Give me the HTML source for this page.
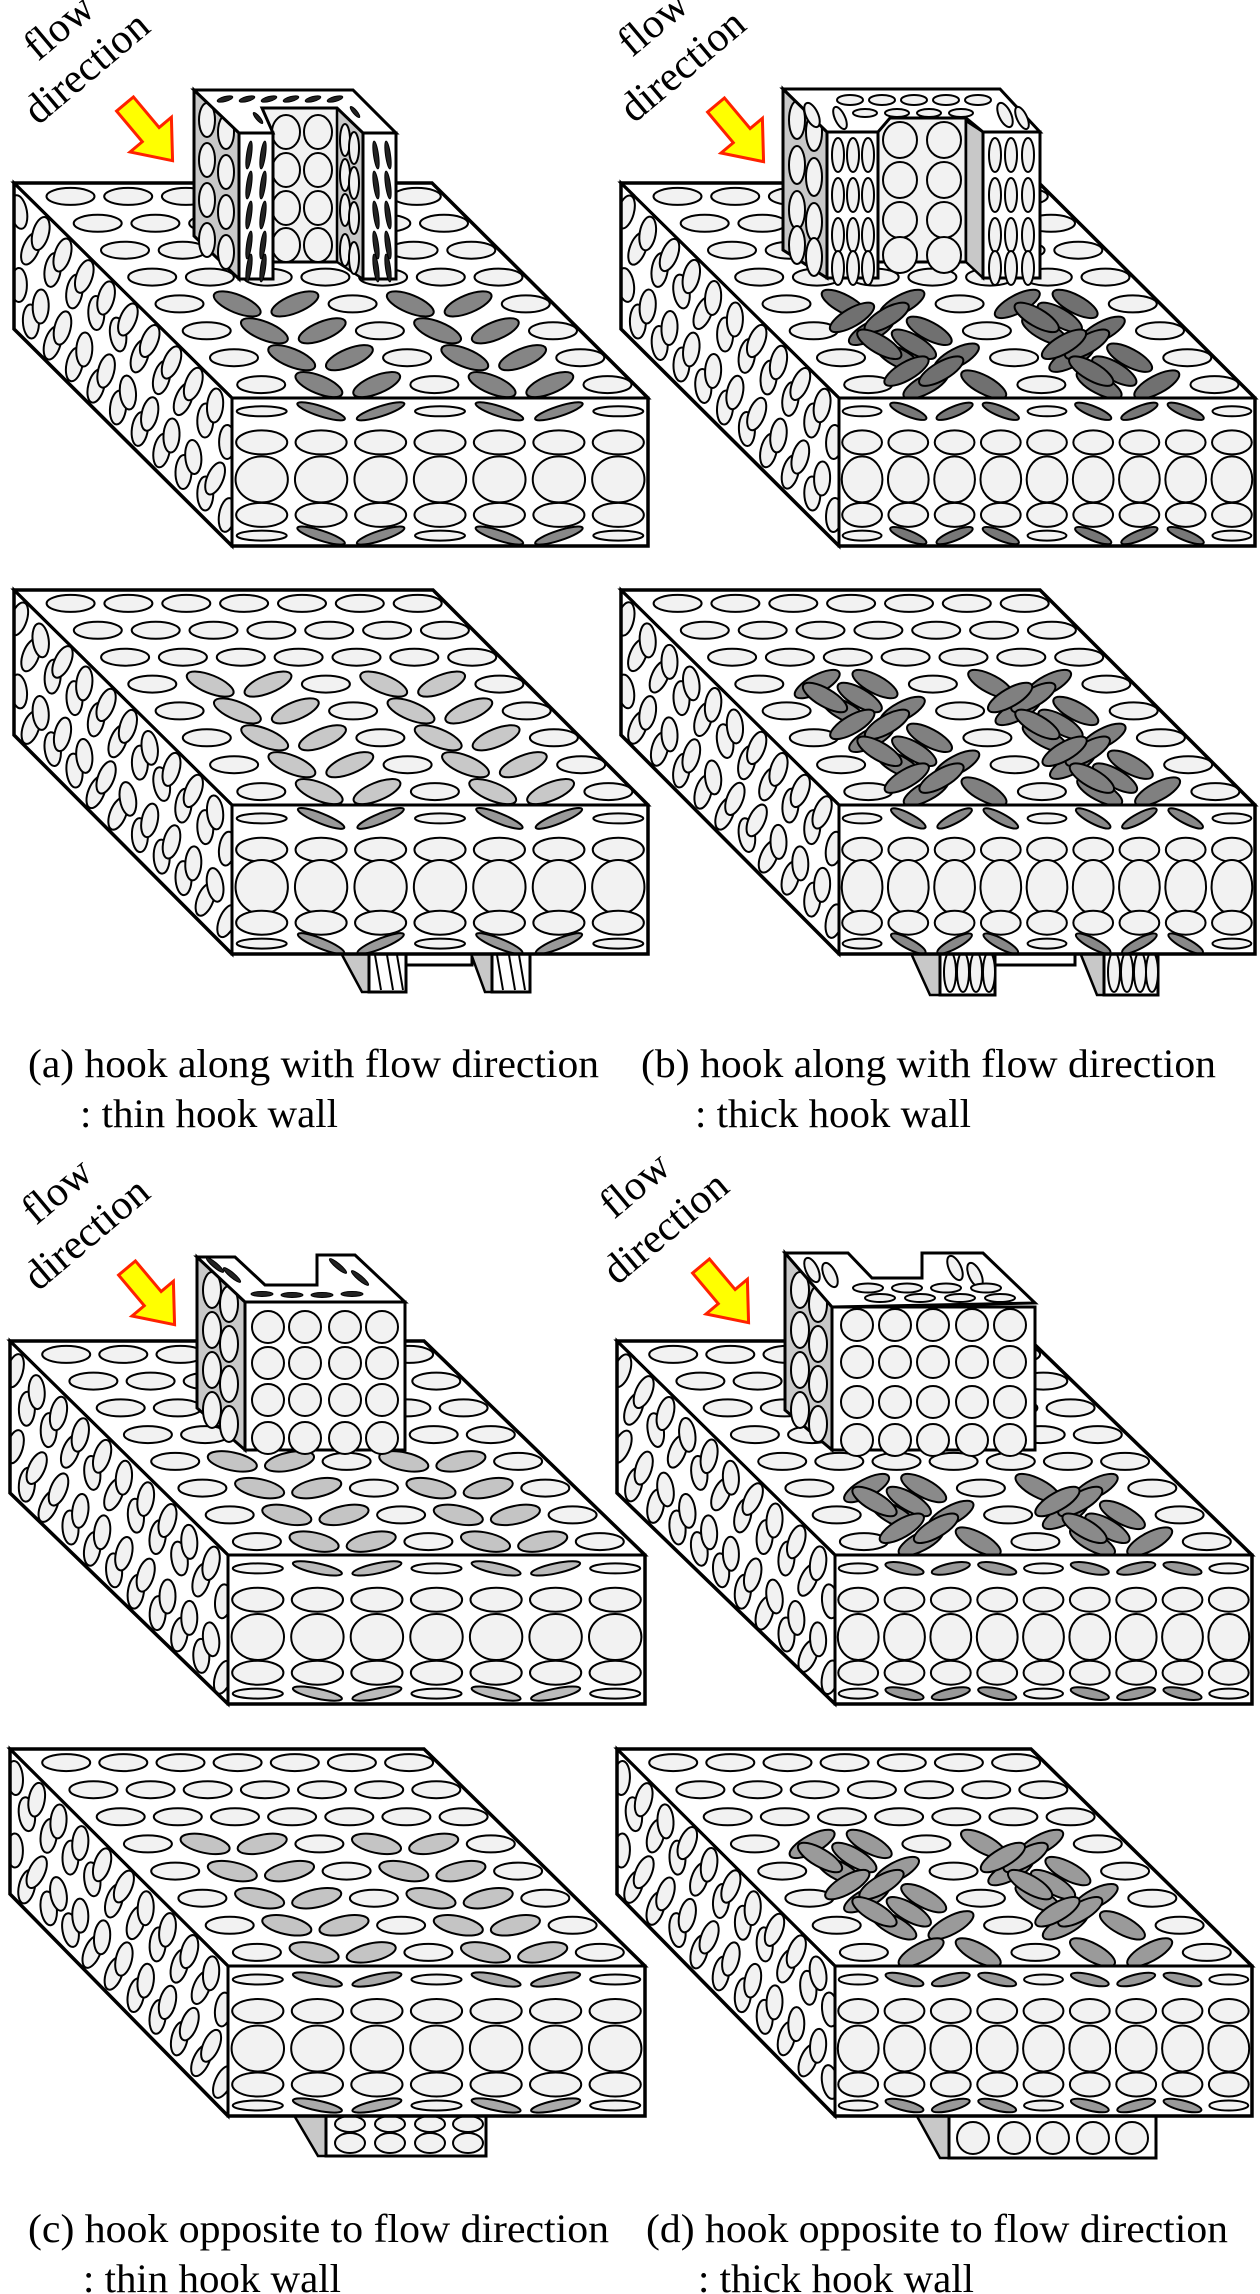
<!DOCTYPE html>
<html><head><meta charset="utf-8">
<style>
html,body{margin:0;padding:0;background:#fff;}
svg{display:block;}
text{font-family:"Liberation Serif",serif;fill:#000;}
</style></head>
<body>
<svg id="s" width="1260" height="2294" viewBox="0 0 1260 2294">
<defs id="defs"></defs>
<g id="bottomhooks"></g>
<g id="blocks"></g>
<g id="hooks"></g>
<g id="labels">
  <text font-size="42" transform="translate(38,62) rotate(-40)">flow</text>
  <text font-size="42" transform="translate(38,126) rotate(-40)">direction</text>
  <text font-size="42" transform="translate(632,58) rotate(-40)">flow</text>
  <text font-size="42" transform="translate(634,124) rotate(-40)">direction</text>
  <text font-size="42" transform="translate(36,1226) rotate(-40)">flow</text>
  <text font-size="42" transform="translate(38,1292) rotate(-40)">direction</text>
  <text font-size="42" transform="translate(614,1220) rotate(-40)">flow</text>
  <text font-size="42" transform="translate(617,1286) rotate(-40)">direction</text>
  <text font-size="40" x="28" y="1077" textLength="571" lengthAdjust="spacingAndGlyphs">(a) hook along with flow direction</text>
  <text font-size="40" x="80" y="1127" textLength="258" lengthAdjust="spacingAndGlyphs">: thin hook wall</text>
  <text font-size="40" x="641" y="1077" textLength="575" lengthAdjust="spacingAndGlyphs">(b) hook along with flow direction</text>
  <text font-size="40" x="695" y="1127" textLength="276" lengthAdjust="spacingAndGlyphs">: thick hook wall</text>
  <text font-size="40" x="28" y="2242" textLength="581" lengthAdjust="spacingAndGlyphs">(c) hook opposite to flow direction</text>
  <text font-size="40" x="83" y="2292" textLength="258" lengthAdjust="spacingAndGlyphs">: thin hook wall</text>
  <text font-size="40" x="646" y="2242" textLength="582" lengthAdjust="spacingAndGlyphs">(d) hook opposite to flow direction</text>
  <text font-size="40" x="698" y="2292" textLength="276" lengthAdjust="spacingAndGlyphs">: thick hook wall</text>
</g>
<g id="arrows"></g>
</svg>
<script>
(function(){
var svg=document.getElementById('s');
var NS=svg.namespaceURI;
var defs=document.getElementById('defs');
function E(t,a,p){var e=document.createElementNS(NS,t);for(var k in a)e.setAttribute(k,a[k]);(p||svg).appendChild(e);return e;}
var seed=7;function rnd(){seed=(seed*16807)%2147483647;return (seed-1)/2147483646;}
function ell(p,cx,cy,rx,ry,rot,fill,sw){E('ellipse',{cx:cx.toFixed(1),cy:cy.toFixed(1),rx:rx,ry:ry,transform:'rotate('+rot.toFixed(1)+' '+cx.toFixed(1)+' '+cy.toFixed(1)+')',fill:fill||'#f2f2f2',stroke:'#000','stroke-width':sw||2},p);}
function pts(a){return a.map(function(q){return q[0]+','+q[1];}).join(' ');}
function poly(p,a,fill,sw){return E('polygon',{points:pts(a),fill:fill||'#fff',stroke:'#000','stroke-width':sw||3,'stroke-linejoin':'miter'},p);}
var cid=0;
function clipG(parent,a){cid++;var c=E('clipPath',{id:'c'+cid},defs);E('polygon',{points:pts(a)},c);return E('g',{'clip-path':'url(#c'+cid+')'},parent);}

var blocks=document.getElementById('blocks');
function block(o){
  var g=E('g',{},blocks);
  var TL=[o.x0,o.yt],TR=[o.x1,o.yt],FL=[o.xf,o.yf],FR=[o.xf2,o.yf],BR=[o.xf2,o.yb],BL=[o.xf,o.yb],LB=[o.x0,o.yl];
  var top=[TL,TR,FR,FL];
  poly(g,top,'#fff',0);
  var tg=clipG(g,top);
  var R=8,W=o.x1-o.x0;
  for(var i=0;i<R;i++){
    var t=(i+0.5)/R,y=o.yt+t*(o.yf-o.yt),xl=o.x0+t*(o.xf-o.x0);
    for(var j=0;j<7;j++){
      var x=xl+14+(j+0.5)*(W-14)/7;
      var d=o.dark?o.dark(i,j):null;
      if(d) ell(tg,x,y,25,9,d[1],d[0]); else ell(tg,x,y,24,8.5,0,'#f2f2f2');
    }
  }
  if(o.extra){o.extra(tg,function(i,jf){var t=(i+0.5)/R;return [o.x0+t*(o.xf-o.x0)+14+(jf+0.5)*(W-14)/7,o.yt+t*(o.yf-o.yt)];});}
  var left=[TL,FL,BL,LB];
  poly(g,left,'#fff',0);
  var lg=clipG(g,left);
  for(var a=0;a<10;a++)for(var b=0;b<4;b++){
    var u=(a+0.5)/10,v=(b+0.5)/4;
    var x=o.x0+u*(o.xf-o.x0)+(b%2?6:-6),y=o.yt+u*(o.yf-o.yt)+v*(o.yl-o.yt);
    ell(lg,x,y,8,17,-10+rnd()*35,'#f2f2f2');
  }
  var front=[FL,FR,BR,BL];
  poly(g,front,'#fff',0);
  var fg=clipG(g,front);
  var C=o.cols,s=(o.xf2-o.xf)/C,h=o.yb-o.yf;
  var rows=[[0.09,0.42,5,1],[0.3,0.43,12,0],[0.55,0.44,o.mid||23,0],[0.79,0.43,12,0],[0.93,0.42,5,1]];
  rows.forEach(function(r){
    for(var j=0;j<C;j++){
      var x=o.xf+(j+0.5)*s,y=o.yf+r[0]*h;
      var fill='#f2f2f2',rot=0;
      if(r[3]&&o.fdark){var d=o.fdark(j);if(d){fill=d[0];rot=d[1];}}
      ell(fg,x,y,s*r[1],r[2],rot,fill);
    }
  });
  poly(g,[TL,TR,FR,BR,BL,LB],'none',3.5);
  E('polyline',{points:pts([TL,FL,FR]),fill:'none',stroke:'#000','stroke-width':3},g);
  E('line',{x1:o.xf,y1:o.yf,x2:o.xf,y2:o.yb,stroke:'#000','stroke-width':3},g);
}
function pat(fill,ang){return function(j){if(j==1||j==4)return [fill,ang];if(j==2||j==5)return [fill,-ang];return null;};}
function patTop(minI,fill,ang){var p=pat(fill,ang);return function(i,j){return i>=minI?p(j):null;};}
function chaos(minI,maxI,fill){return function(i,j){if(i>=minI&&i<=maxI&&j>=1&&j<=5&&j!=3)return [fill,((i+j)%2?28:-28)];return null;};}
function chaosExtra(minI,maxI,fill){return function(g,P){for(var i=minI;i<maxI;i++){[1.5,4.5,0.9,4.1].forEach(function(jf,k){var p=P(i+0.5,jf);ell(g,p[0],p[1],25,9,(k+i)%2?30:-30,fill);});}};}
var X=607;
block({x0:14,x1:432,xf:232,xf2:648,yt:183,yf:398,yb:546,yl:329,cols:7,dark:patTop(4,'#858585',22),fdark:pat('#888',18)});
block({x0:14+X,x1:432+X,xf:232+X,xf2:648+X,yt:183,yf:398,yb:546,yl:329,cols:9,dark:chaos(4,7,'#707070'),extra:chaosExtra(4,7,'#707070'),fdark:function(j){return (j>=1&&j<=7&&j!=4)?['#777',(j%2?22:-22)]:null;}});
block({x0:14,x1:433,xf:232,xf2:648,yt:590,yf:805,yb:954,yl:735,cols:7,mid:27,dark:patTop(3,'#c8c8c8',22),fdark:pat('#999',22)});
block({x0:14+X,x1:433+X,xf:232+X,xf2:648+X,yt:590,yf:805,yb:954,yl:735,cols:9,mid:27,dark:chaos(3,7,'#808080'),extra:chaosExtra(3,7,'#808080'),fdark:function(j){return (j>=1&&j<=7&&j!=4)?['#888',(j%2?28:-28)]:null;}});
block({x0:10,x1:424,xf:228,xf2:645,yt:1341,yf:1555,yb:1704,yl:1493,cols:7,dark:patTop(4,'#c4c4c4',12),fdark:pat('#bbb',12)});
block({x0:10+X,x1:424+X,xf:228+X,xf2:645+X,yt:1341,yf:1555,yb:1704,yl:1493,cols:9,dark:chaos(5,7,'#8a8a8a'),extra:chaosExtra(5,7,'#8a8a8a'),fdark:function(j){return (j>=1&&j<=7&&j!=4)?['#999',(j%2?12:-12)]:null;}});
block({x0:10,x1:424,xf:228,xf2:645,yt:1749,yf:1966,yb:2116,yl:1894,cols:7,dark:patTop(3,'#c4c4c4',12),fdark:pat('#aaa',12)});
block({x0:10+X,x1:424+X,xf:228+X,xf2:645+X,yt:1749,yf:1966,yb:2116,yl:1894,cols:9,dark:chaos(3,7,'#9a9a9a'),extra:chaosExtra(3,6,'#9a9a9a'),fdark:function(j){return (j>=1&&j<=7&&j!=4)?['#999',(j%2?14:-14)]:null;}});

var H=document.getElementById('hooks');
var G='#c8c8c8',L='#f2f2f2';
(function(){
  var g=E('g',{},H);
  poly(g,[[239,108],[363,108],[363,262],[239,262]],L,3);
  [286,318].forEach(function(x){[132,170,208,245].forEach(function(y){ell(g,x,y,14,17,0);});});
  poly(g,[[337,108],[363,133],[363,279],[337,262]],G,2.5);
  [345,354].forEach(function(x,k){[140,175,210,250].forEach(function(y){ell(g,x,y+k*8,5,16,0);});});
  poly(g,[[194,90],[239,133],[239,279],[194,236]],G,3);
  [207,226].forEach(function(x,k){[120,160,200,240].forEach(function(y){ell(g,x,y+k*12,8,17,0);});});
  poly(g,[[239,133],[273,133],[273,279],[239,279]],'#fff',3);
  poly(g,[[363,133],[396,133],[396,279],[363,279]],'#fff',3);
  [[249,263],[376,388]].forEach(function(xs){xs.forEach(function(x){[155,185,215,245,268].forEach(function(y){ell(g,x,y,2.5,14,x%2?8:-8,'#222',1);});});});
  poly(g,[[194,90],[353,90],[396,133],[363,133],[337,108],[262,108],[273,133],[239,133]],'#fff',3);
  for(var k=0;k<6;k++)ell(g,225+k*22,99,8,2.5,-15,'#222',1);
  ell(g,258,118,7,2,50,'#222',1);ell(g,355,112,7,2,50,'#222',1);
})();
(function(){
  var g=E('g',{},H);
  poly(g,[[878,115],[966,115],[966,262],[878,262]],L,3);
  [900,944].forEach(function(x){[140,180,220,255].forEach(function(y){ell(g,x,y,17,18,0);});});
  poly(g,[[966,121],[983,132],[983,278],[966,262]],G,2.5);
  poly(g,[[783,89],[827,132],[827,278],[783,250]],G,3);
  [797,814].forEach(function(x,k){[120,165,210,245].forEach(function(y){ell(g,x,y+k*12,8,19,0);});});
  poly(g,[[827,132],[878,132],[878,278],[827,278]],'#fff',3);
  poly(g,[[983,132],[1040,132],[1040,278],[983,278]],'#fff',3);
  [[838,853,868],[995,1011,1028]].forEach(function(xs){xs.forEach(function(x){[155,195,235,268].forEach(function(y){ell(g,x,y,6,17,0);});});});
  poly(g,[[783,89],[1000,89],[1040,132],[983,132],[966,118],[890,118],[878,132],[827,132]],'#fff',3);
  for(var k=0;k<5;k++)ell(g,850+k*32,100,13,5,0);
  for(var k=0;k<4;k++)ell(g,865+k*32,113,12,4,0);
  ell(g,812,115,6,13,-25);ell(g,840,118,5,12,-25);ell(g,1005,115,6,13,-25);ell(g,1022,118,5,12,-25);
})();
(function(){
  var g=E('g',{},H);
  poly(g,[[197,1257],[245,1302],[245,1450],[197,1408]],G,3);
  [212,229].forEach(function(x,k){[1290,1330,1370,1410].forEach(function(y){ell(g,x,y+k*14,9,18,0);});});
  poly(g,[[317,1255],[330,1255],[330,1285],[317,1285]],G,2);
  poly(g,[[197,1257],[235,1257],[265,1285],[317,1285],[317,1255],[355,1255],[405,1302],[245,1302]],'#fff',3);
  [[215,1265],[232,1275],[262,1294],[292,1295],[322,1295],[352,1294],[338,1266],[360,1278]].forEach(function(p,k){ell(g,p[0],p[1],11,2.5,k<2||k>5?40:0,'#222',1);});
  poly(g,[[245,1302],[405,1302],[405,1450],[245,1450]],'#fff',3);
  [268,305,345,382].forEach(function(x){[1327,1363,1400,1438].forEach(function(y){ell(g,x,y,16,16,0);});});
})();
(function(){
  var g=E('g',{},H);
  poly(g,[[785,1253],[832,1307],[832,1450],[785,1410]],G,3);
  [800,818].forEach(function(x,k){[1290,1330,1370,1410].forEach(function(y){ell(g,x,y+k*14,9,18,0);});});
  poly(g,[[922,1253],[935,1253],[935,1278],[922,1278]],G,2);
  poly(g,[[785,1253],[848,1253],[872,1278],[922,1278],[922,1253],[983,1253],[1035,1303],[832,1307]],'#fff',3);
  [[812,1270],[830,1275],[955,1268],[975,1275]].forEach(function(p){ell(g,p[0],p[1],6,13,-25);});
  [868,907,946,986].forEach(function(x){ell(g,x,1288,15,4.5,0);});
  [880,920,960,1000].forEach(function(x){ell(g,x,1298,15,4,0);});
  poly(g,[[832,1307],[1035,1307],[1035,1450],[832,1450]],'#fff',3);
  [857,895,933,972,1010].forEach(function(x){[1325,1362,1402,1440].forEach(function(y){ell(g,x,y,16,16,0);});});
})();

var B=document.getElementById('bottomhooks');
(function(){
  var g=B;
  poly(g,[[406,940],[472,940],[472,965],[406,965]],'#fff',3);
  poly(g,[[334,940],[369,940],[369,992],[362,992]],G,2.5);
  poly(g,[[369,940],[406,940],[406,992],[369,992]],'#fff',3);
  poly(g,[[466,940],[492,940],[492,992],[485,992]],G,2.5);
  poly(g,[[492,940],[530,940],[530,992],[492,992]],'#fff',3);
  [378,390,400,500,512,522].forEach(function(x){E('line',{x1:x-3,y1:955,x2:x+3,y2:990,stroke:'#000','stroke-width':2},g);});
  poly(g,[[995,940],[1075,940],[1075,965],[995,965]],'#fff',3);
  poly(g,[[905,940],[940,940],[940,995],[930,995]],G,2.5);
  poly(g,[[940,940],[995,940],[995,995],[940,995]],'#fff',3);
  poly(g,[[1075,940],[1104,940],[1104,995],[1097,995]],G,2.5);
  poly(g,[[1104,940],[1158,940],[1158,995],[1104,995]],'#fff',3);
  [950,963,976,989,1114,1127,1140,1152].forEach(function(x){ell(g,x,972,6,20,0);});
  poly(g,[[285,2100],[326,2100],[326,2156],[318,2156]],G,2.5);
  poly(g,[[326,2100],[486,2100],[486,2156],[326,2156]],'#fff',3);
  [350,390,430,468].forEach(function(x){ell(g,x,2124,15,8,0);ell(g,x,2143,15,10,0);});
  poly(g,[[908,2100],[949,2100],[949,2158],[940,2158]],G,2.5);
  poly(g,[[949,2100],[1156,2100],[1156,2158],[949,2158]],'#fff',3);
  [973,1014,1053,1093,1132].forEach(function(x){ell(g,x,2138,16,16,0);});
})();

var A=document.getElementById('arrows');
[[125,104],[716,105],[127,1268],[701,1266]].forEach(function(p){
  E('polygon',{points:'0,-11 40,-11 40,-27 74,0 40,27 40,11 0,11',fill:'#ffff00',stroke:'#ff2200','stroke-width':3,'stroke-linejoin':'miter',transform:'translate('+p[0]+','+p[1]+') rotate(50)'},A);
});
})();
</script>
</body></html>
